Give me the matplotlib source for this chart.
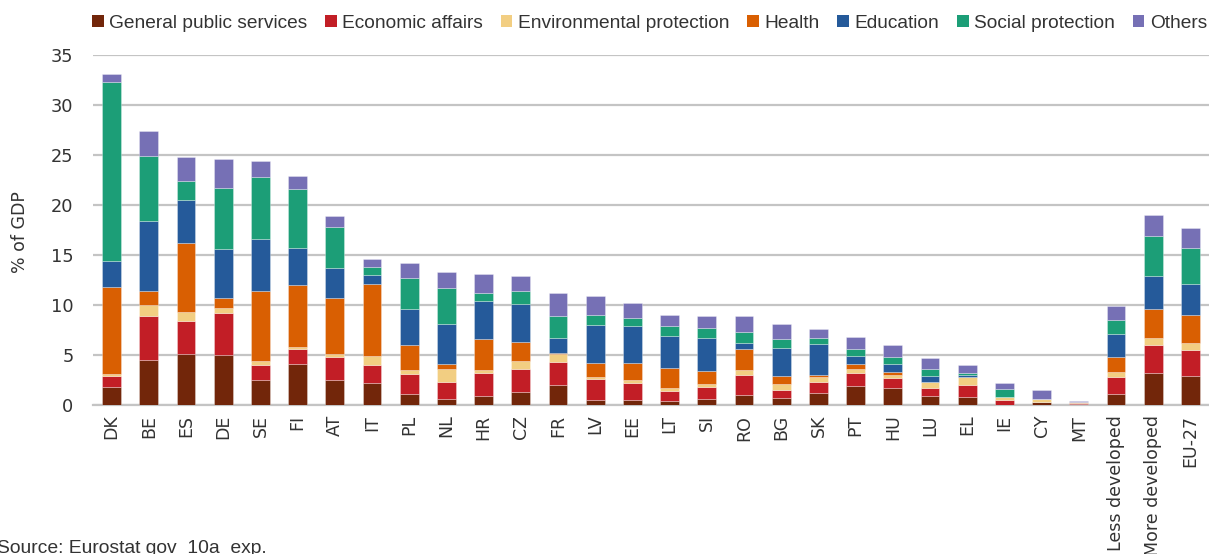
import matplotlib
matplotlib.use("Agg")
import matplotlib.pyplot as plt
from matplotlib.patches import Patch
import numpy as np

# Expenditure by function, % of GDP
countries = ["DK", "BE", "ES", "DE", "SE", "FI", "AT", "IT", "PL", "NL", "HR", "CZ",
             "FR", "LV", "EE", "LT", "SI", "RO", "BG", "SK", "PT", "HU", "LU", "EL",
             "IE", "CY", "MT", "Less developed", "More developed", "EU-27"]

general_public_services = [1.8, 4.5, 5.1, 5.0, 2.5, 4.1, 2.5, 2.2, 1.1, 0.6, 0.9, 1.3,
                           2.0, 0.5, 0.5, 0.4, 0.6, 1.0, 0.7, 1.2, 1.9, 1.7, 0.95, 0.8,
                           0.05, 0.3, 0.15, 1.1, 3.2, 2.95]
economic_affairs = [1.1, 4.4, 3.3, 4.2, 1.5, 1.5, 2.3, 1.8, 2.0, 1.7, 2.3, 2.3,
                    2.3, 2.1, 1.7, 1.0, 1.2, 2.0, 0.8, 1.1, 1.3, 1.0, 0.75, 1.2,
                    0.45, 0.05, 0.05, 1.7, 2.8, 2.55]
environmental_protection = [0.2, 1.1, 0.9, 0.5, 0.4, 0.2, 0.3, 0.9, 0.4, 1.3, 0.3, 0.8,
                            0.8, 0.2, 0.3, 0.3, 0.3, 0.5, 0.6, 0.5, 0.4, 0.3, 0.65, 0.8,
                            0.3, 0.25, 0.15, 0.5, 0.7, 0.7]
health = [8.7, 1.4, 6.9, 1.0, 7.0, 6.2, 5.6, 7.2, 2.5, 0.5, 3.1, 1.9,
          0.15, 1.4, 1.7, 2.0, 1.3, 2.1, 0.8, 0.2, 0.5, 0.3, 0.0, 0.0,
          0.0, 0.0, 0.0, 1.5, 2.9, 2.8]
education = [2.6, 7.0, 4.3, 4.9, 5.2, 3.7, 3.0, 0.9, 3.6, 4.0, 3.8, 3.8,
             1.5, 3.8, 3.7, 3.2, 3.3, 0.6, 2.8, 3.1, 0.8, 0.8, 0.55, 0.2,
             0.0, 0.0, 0.0, 2.3, 3.3, 3.1]
social_protection = [17.9, 6.5, 1.9, 6.1, 6.2, 5.9, 4.1, 0.8, 3.1, 3.6, 0.8, 1.3,
                     2.2, 1.0, 0.8, 1.0, 1.0, 1.1, 0.9, 0.6, 0.7, 0.7, 0.7, 0.2,
                     0.8, 0.0, 0.0, 1.4, 4.0, 3.6]
others = [0.8, 2.5, 2.4, 2.9, 1.6, 1.3, 1.1, 0.8, 1.5, 1.6, 1.9, 1.5,
          2.3, 1.9, 1.5, 1.1, 1.2, 1.6, 1.5, 0.9, 1.2, 1.2, 1.1, 0.8,
          0.6, 0.9, 0.05, 1.4, 2.1, 2.0]

series_names = ["General public services", "Economic affairs", "Environmental protection",
                "Health", "Education", "Social protection", "Others"]
series_values = [general_public_services, economic_affairs, environmental_protection,
                 health, education, social_protection, others]
series_colors = ["#72260A", "#C21E26", "#F2CE82", "#D95F02", "#255A9A", "#1C9E77", "#7670B5"]

text_color = "#333333"
grid_color = "#C4C4C4"
tick_font = ["DejaVu Sans"]
narrow_font = ["Liberation Sans", "DejaVu Sans"]

fig = plt.figure(figsize=(12.09, 5.54), dpi=100)
ax = fig.add_axes([93 / 1209, 1 - 405 / 554, 1 - 93 / 1209, 350 / 554])

x = np.arange(len(countries))
bottom = np.zeros(len(countries))
for name, vals, col in zip(series_names, series_values, series_colors):
    vals = np.array(vals)
    ax.bar(x, vals, width=0.51, bottom=bottom, color=col, label=name,
           edgecolor=(1, 1, 1, 0.35), linewidth=0.6, zorder=3)
    bottom += vals

ax.set_xlim(-0.5, len(countries) - 0.5)
ax.set_ylim(0, 35)
ax.set_yticks(np.arange(0, 36, 5))
ax.yaxis.grid(True, color=grid_color, linewidth=1.6, zorder=0)
ax.set_axisbelow(True)
for s in ["top", "right", "left"]:
    ax.spines[s].set_visible(False)
ax.spines["bottom"].set_color(grid_color)
ax.spines["bottom"].set_linewidth(1.6)
ax.spines["bottom"].set_zorder(1)

ax.set_xticks(x)
ax.set_xticklabels(countries, rotation=90, fontsize=12.5, family=tick_font, color=text_color)
ax.tick_params(axis="x", length=0, pad=7)
ax.tick_params(axis="y", length=0, pad=14, labelsize=12.8, labelcolor=text_color)
for t in ax.get_yticklabels():
    t.set_family(tick_font)

fig.text(20 / 1209, 1 - 232 / 554, "% of GDP", rotation=90, ha="center", va="center",
         fontsize=12.5, family=tick_font, color=text_color)

handles = [Patch(facecolor=c, edgecolor="none") for c in series_colors]
fig.legend(handles, series_names, loc="center left", bbox_to_anchor=(92 / 1209, 1 - 23 / 554),
           ncol=7, frameon=False, handlelength=0.6, handleheight=0.6, handletextpad=0.28,
           columnspacing=0.94, borderaxespad=0, borderpad=0,
           prop={"family": narrow_font, "size": 13.8}, labelcolor=text_color)

fig.text(-3 / 1209, -3 / 554, "Source: Eurostat gov_10a_exp.", ha="left", va="bottom",
         fontsize=13.9, family=narrow_font, color=text_color)

fig.savefig("out.png", dpi=100)
